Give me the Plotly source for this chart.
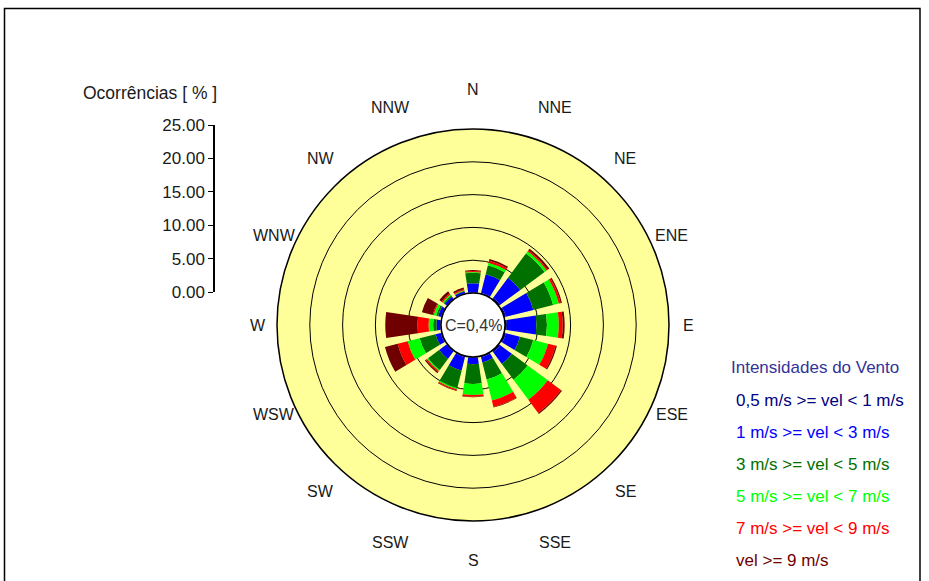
import math
import plotly.graph_objects as go

# ---- data -------------------------------------------------------------
directions = ["N", "NNE", "NE", "ENE", "E", "ESE", "SE", "SSE",
              "S", "SSW", "SW", "WSW", "W", "WNW", "NW", "NNW"]

v05_1 = [0.1, 0.2, 0.3, 0.3, 0.3, 0.3, 0.3, 0.2, 0.1, 0.2, 0.15, 0.2, 0.1, 0.1, 0.1, 0.1]
v1_3 = [1.4, 2.9, 3.8, 4.3, 4.5, 2.2, 2.2, 0.8, 1.0, 2.1, 1.4, 0.8, 0.6, 0.5, 0.4, 0.3]
v3_5 = [1.6, 1.4, 4.6, 3.1, 1.6, 2.1, 3.0, 2.7, 3.0, 2.7, 2.1, 2.5, 0.5, 0.3, 0.2, 0.1]
v5_7 = [0.1, 0.4, 0.4, 0.9, 1.8, 2.3, 3.8, 3.3, 1.7, 0.2, 0.2, 1.9, 0.7, 0.4, 0.2, 0.1]
v7_9 = [0.15, 0.3, 0.2, 0.3, 0.6, 1.2, 2.5, 1.0, 0.25, 0.2, 0.2, 1.55, 1.7, 0.15, 0.2, 0.15]
v9p = [0.15, 0.3, 0.3, 0.2, 0.3, 0.2, 0.2, 0.1, 0.1, 0.1, 0.2, 2.0, 4.9, 1.7, 0.4, 0.25]

class_labels = ["0,5 m/s >= vel < 1 m/s", "1 m/s >= vel < 3 m/s", "3 m/s >= vel < 5 m/s",
                "5 m/s >= vel < 7 m/s", "7 m/s >= vel < 9 m/s", "vel >= 9 m/s"]
class_colors = ["#000080", "#0000FF", "#007000", "#00FF00", "#FF0000", "#700000"]
legend_title = "Intensidades do Vento"
calm_text = "C=0,4%"
axis_title = "Ocorrências [ % ]"
scale_ticks = [0, 5, 10, 15, 20, 25]
scale_ticktext = ["0.00", "5.00", "10.00", "15.00", "20.00", "25.00"]

# ---- figure -----------------------------------------------------------
W, H = 929, 581
cx, cy, R = 473, 325, 196
hole_px = 32
lab_ax, lab_ay = 215, 235   # direction-label ellipse (px)

angles = [i * 360 / len(directions) for i in range(len(directions))]
series = [v05_1, v1_3, v3_5, v5_7, v7_9, v9p]

fig = go.Figure()
for vals, name, col in zip(series, class_labels, class_colors):
    fig.add_trace(go.Barpolar(
        r=vals, theta=angles, width=17, name=name,
        marker=dict(color=col, line=dict(width=0)),
        showlegend=False, hoverinfo="skip",
    ))

# dummy trace to make the cartesian scale axis appear
fig.add_trace(go.Scatter(x=[0], y=[0], mode="markers",
                         marker=dict(opacity=0), showlegend=False,
                         hoverinfo="skip", xaxis="x", yaxis="y"))

font_family = "Liberation Sans, Arial, sans-serif"
txt_col = "#1a1a1a"

fig.update_layout(
    width=W, height=H,
    margin=dict(l=0, r=0, t=0, b=0, pad=0, autoexpand=False),
    showlegend=False,
    paper_bgcolor="white", plot_bgcolor="rgba(0,0,0,0)",
    font=dict(family=font_family, size=16, color=txt_col),
    polar=dict(
        domain=dict(x=[(cx - R) / W, (cx + R) / W],
                    y=[(H - cy - R) / H, (H - cy + R) / H]),
        bgcolor="#FFFF99",
        hole=hole_px / R,
        barmode="stack",
        radialaxis=dict(range=[0, 25], tickvals=[5, 10, 15, 20],
                        showticklabels=False, ticks="",
                        showline=False, gridcolor="black", gridwidth=1.2),
        angularaxis=dict(direction="clockwise", rotation=90,
                         tickvals=angles, showticklabels=False,
                         showgrid=False, showline=True, linecolor="black",
                         linewidth=1.5, ticks=""),
    ),
    xaxis=dict(domain=[215 / W, 225 / W], visible=False, range=[0, 1],
               fixedrange=True, automargin=False),
    yaxis=dict(domain=[(H - 292) / H, (H - 125) / H], range=[0, 25],
               anchor="x", side="left", automargin=False,
               tickvals=scale_ticks, ticktext=scale_ticktext,
               ticks="outside", ticklen=5, tickwidth=1.2, tickcolor="black",
               showline=True, linecolor="black", linewidth=1.5,
               showgrid=False, zeroline=False,
               tickfont=dict(size=17, color=txt_col), fixedrange=True),
)

ann = [
    dict(x=cx / W, y=1 - cy / H, text=calm_text, showarrow=False,
         xref="paper", yref="paper", font=dict(size=16, color="#333333")),
    dict(x=219 / W, y=1 - 93 / H, text=axis_title, showarrow=False,
         xref="paper", yref="paper", xanchor="right", yanchor="middle",
         font=dict(size=17.5, color=txt_col)),
    dict(x=729 / W, y=1 - 367 / H, text=legend_title, showarrow=False,
         xref="paper", yref="paper", xanchor="left", yanchor="middle",
         font=dict(size=17, color="#333399")),
]
for i, (lab, col) in enumerate(zip(class_labels, class_colors)):
    ann.append(dict(x=734 / W, y=1 - (400 + i * 32) / H, text=lab,
                    showarrow=False, xref="paper", yref="paper",
                    xanchor="left", yanchor="middle",
                    font=dict(size=17, color=col)))
# direction labels placed around the rose
for name, a in zip(directions, angles):
    t = math.radians(a)
    ann.append(dict(x=(cx + lab_ax * math.sin(t)) / W,
                    y=1 - (cy - lab_ay * math.cos(t)) / H,
                    text=name, showarrow=False, xref="paper", yref="paper",
                    xanchor="center", yanchor="middle",
                    font=dict(size=16, color=txt_col)))
fig.update_layout(annotations=ann)

# outer frame
fig.add_shape(type="rect", xref="paper", yref="paper",
              x0=4.5 / W, x1=920 / W, y0=-0.05, y1=1 - 8.5 / H,
              line=dict(color="black", width=1.5), fillcolor="rgba(0,0,0,0)")

post = (
    "document.documentElement.style.margin='0';"
    "document.documentElement.style.overflow='hidden';"
    "document.body.style.margin='0';"
    "document.body.style.overflow='hidden';"
    "var gd=document.getElementById('{plot_id}');"
    "gd.style.position='fixed';gd.style.left='0px';gd.style.top='0px';"
)

fig.write_html("out.html", config={"displayModeBar": False}, post_script=post)
